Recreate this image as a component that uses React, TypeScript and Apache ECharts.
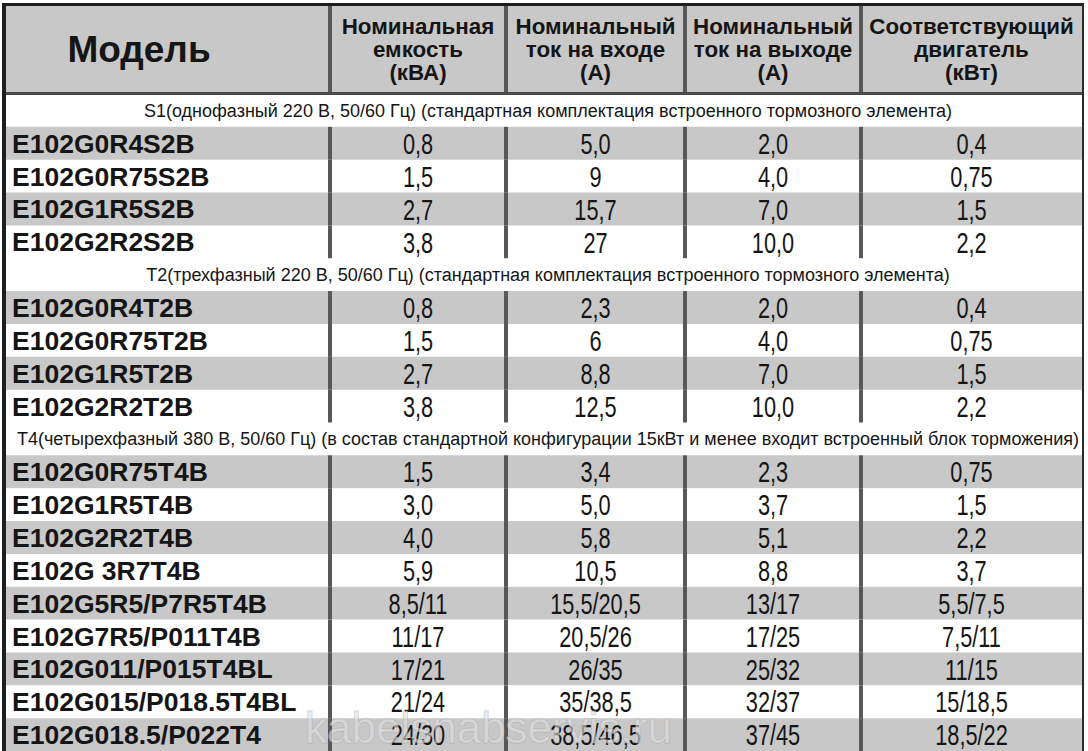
import React, { useEffect, useRef } from "react";
import * as echarts from "echarts";

// ---- Data ----
const columnHeaders = [
  "Модель",
  "Номинальная\nемкость\n(кВА)",
  "Номинальный\nток на входе\n(А)",
  "Номинальный\nток на выходе\n(А)",
  "Соответствующий\nдвигатель\n(кВт)",
];

const sectionTitles = [
  "S1(однофазный 220 В, 50/60 Гц) (стандартная комплектация встроенного тормозного элемента)",
  "T2(трехфазный 220 В, 50/60 Гц) (стандартная комплектация встроенного тормозного элемента)",
  "T4(четырехфазный 380 В, 50/60 Гц) (в состав стандартной конфигурации 15кВт и менее входит встроенный блок торможения)",
];
const sectionSizes = [4, 4, 9];

const models = [
  "E102G0R4S2B", "E102G0R75S2B", "E102G1R5S2B", "E102G2R2S2B",
  "E102G0R4T2B", "E102G0R75T2B", "E102G1R5T2B", "E102G2R2T2B",
  "E102G0R75T4B", "E102G1R5T4B", "E102G2R2T4B", "E102G 3R7T4B",
  "E102G5R5/P7R5T4B", "E102G7R5/P011T4B", "E102G011/P015T4BL",
  "E102G015/P018.5T4BL", "E102G018.5/P022T4",
];
const capacityKVA = [
  "0,8", "1,5", "2,7", "3,8",
  "0,8", "1,5", "2,7", "3,8",
  "1,5", "3,0", "4,0", "5,9", "8,5/11", "11/17", "17/21", "21/24", "24/30",
];
const inputCurrentA = [
  "5,0", "9", "15,7", "27",
  "2,3", "6", "8,8", "12,5",
  "3,4", "5,0", "5,8", "10,5", "15,5/20,5", "20,5/26", "26/35", "35/38,5", "38,5/46,5",
];
const outputCurrentA = [
  "2,0", "4,0", "7,0", "10,0",
  "2,0", "4,0", "7,0", "10,0",
  "2,3", "3,7", "5,1", "8,8", "13/17", "17/25", "25/32", "32/37", "37/45",
];
const motorKW = [
  "0,4", "0,75", "1,5", "2,2",
  "0,4", "0,75", "1,5", "2,2",
  "0,75", "1,5", "2,2", "3,7", "5,5/7,5", "7,5/11", "11/15", "15/18,5", "18,5/22",
];

// ---- Layout (not data) ----
const W = 1088;
const H = 751;
const TABLE_L = 6;
const TABLE_R = 1082;
const HEADER_TOP = 6;
const HEADER_BOTTOM = 94;
const COL_EDGES = [0, 324, 500, 679, 855, 1076]; // in table units (0..1076)
const GRAY = "#c8c8c8";
const SEP = "#585858";
const TEXT = "#151515";
const FONT = "'Liberation Sans', Arial, sans-serif";

type Row = { kind: "section"; text: string } | { kind: "data"; idx: number; stripe: number };

function buildRows(): Row[] {
  const rows: Row[] = [];
  let k = 0;
  sectionTitles.forEach((t, s) => {
    rows.push({ kind: "section", text: t });
    for (let j = 0; j < sectionSizes[s]; j++) {
      rows.push({ kind: "data", idx: k, stripe: j % 2 });
      k++;
    }
  });
  return rows;
}

export default function App() {
  const ref = useRef<HTMLDivElement>(null);

  useEffect(() => {
    if (!ref.current) return;
    const chart = echarts.init(ref.current, undefined, { renderer: "svg" });
    const rows = buildRows();
    const rowKeys = rows.map((_, i) => "r" + i);

    const renderItem = (params: any, api: any) => {
      const i = api.value(1);
      const row = rows[i];
      const c = api.coord([0, i]);
      const size = api.size([0, 1]);
      const bandH = size[1];
      const yTop = c[1] - bandH / 2;
      const xs = COL_EDGES.map((e) => api.coord([e, i])[0]);
      const children: any[] = [];
      if (row.kind === "section") {
        children.push({
          type: "rect",
          shape: { x: xs[0], y: yTop, width: xs[5] - xs[0], height: bandH },
          style: { fill: "#ffffff" },
        });
        children.push({
          type: "text",
          x: (xs[0] + xs[5]) / 2 + 4,
          y: c[1] + 0.5,
          style: {
            text: row.text,
            x: 0,
            y: 0,
            align: "center",
            verticalAlign: "middle",
            fill: TEXT,
            font: `18px ${FONT}`,
            lineHeight: 20,
          },
        });
      } else {
        const d = row.idx;
        children.push({
          type: "rect",
          shape: { x: xs[0], y: yTop, width: xs[5] - xs[0], height: bandH + 0.5 },
          style: { fill: row.stripe === 0 ? GRAY : "#ffffff" },
        });
        for (let e = 1; e <= 4; e++) {
          children.push({
            type: "rect",
            shape: { x: xs[e] - 2, y: yTop, width: 4, height: bandH + 0.5 },
            style: { fill: SEP },
          });
        }
        children.push({
          type: "text",
          x: xs[0] + 6,
          y: c[1] + 0.5,
          style: {
            text: models[d],
            x: 0,
            y: 0,
            align: "left",
            verticalAlign: "middle",
            fill: TEXT,
            font: `bold 26.5px ${FONT}`,
            lineHeight: 24,
          },
        });
        const vals = [capacityKVA[d], inputCurrentA[d], outputCurrentA[d], motorKW[d]];
        vals.forEach((v, k) => {
          children.push({
            type: "text",
            x: (xs[k + 1] + xs[k + 2]) / 2,
            y: c[1] + 0.5,
            scaleX: 0.75,
            style: {
              text: v,
              x: 0,
              y: 0,
              align: "center",
              verticalAlign: "middle",
              fill: TEXT,
              font: `29px ${FONT}`,
              lineHeight: 24,
            },
          });
        });
      }
      return { type: "group", children };
    };

    const graphics: any[] = [];
    graphics.push({
      type: "rect",
      z: 100,
      shape: { x: TABLE_L, y: HEADER_TOP, width: TABLE_R - TABLE_L, height: HEADER_BOTTOM - HEADER_TOP },
      style: { fill: GRAY },
    });
    for (let e = 1; e <= 4; e++) {
      graphics.push({
        type: "rect",
        z: 101,
        shape: { x: TABLE_L + COL_EDGES[e] - 2, y: HEADER_TOP, width: 4, height: HEADER_BOTTOM - HEADER_TOP },
        style: { fill: SEP },
      });
    }
    columnHeaders.forEach((t, k) => {
      const cx = k === 0 ? 139 : TABLE_L + (COL_EDGES[k] + COL_EDGES[k + 1]) / 2;
      graphics.push({
        type: "text",
        z: 102,
        x: cx,
        y: (HEADER_TOP + HEADER_BOTTOM) / 2 - 0.5,
        scaleX: k === 0 ? 1 : 1.04,
        style: {
          text: t,
          x: 0,
          y: 0,
          align: "center",
          verticalAlign: "middle",
          fill: TEXT,
          font: k === 0 ? `bold 37px ${FONT}` : `bold 21.5px ${FONT}`,
          lineHeight: 23,
        },
      });
    });
    // header bottom rule
    graphics.push({
      type: "rect",
      z: 103,
      shape: { x: TABLE_L, y: HEADER_BOTTOM - 2, width: TABLE_R - TABLE_L, height: 3 },
      style: { fill: "#4a4a4a" },
    });
    // outer borders
    graphics.push({
      type: "rect",
      z: 104,
      shape: { x: 2, y: 3, width: TABLE_R - 2 + 1, height: 3 },
      style: { fill: "#1e1e1e" },
    });
    graphics.push({
      type: "rect",
      z: 104,
      shape: { x: 2, y: 3, width: 4, height: H - 3 },
      style: { fill: "#1e1e1e" },
    });
    graphics.push({
      type: "rect",
      z: 104,
      shape: { x: TABLE_R, y: 3, width: 2, height: H - 3 },
      style: { fill: "#2a2a2a" },
    });
    // watermark
    graphics.push({
      type: "text",
      z: 105,
      x: 305,
      y: 727,
      style: {
        text: "kabelsnabservis.ru",
        x: 0,
        y: 0,
        align: "left",
        verticalAlign: "middle",
        fill: "rgba(225,225,225,0.6)",
        stroke: "rgba(150,150,150,0.45)",
        lineWidth: 1,
        font: `44px ${FONT}`,
        lineHeight: 44,
      },
    });

    chart.setOption({
      animation: false,
      backgroundColor: "#ffffff",
      grid: { left: TABLE_L, right: W - TABLE_R, top: HEADER_BOTTOM, bottom: 0, containLabel: false },
      xAxis: { type: "value", min: 0, max: COL_EDGES[5], show: false },
      yAxis: { type: "category", data: rowKeys, inverse: true, show: false },
      series: [
        {
          type: "custom",
          renderItem,
          clip: false,
          data: rows.map((_, i) => [0, i]),
          encode: { x: 0, y: 1 },
        },
      ],
      graphic: graphics,
    });

    return () => chart.dispose();
  }, []);

  return (
    <div
      ref={ref}
      style={{ position: "fixed", left: 0, top: 0, width: W, height: H, background: "#fff" }}
    />
  );
}
